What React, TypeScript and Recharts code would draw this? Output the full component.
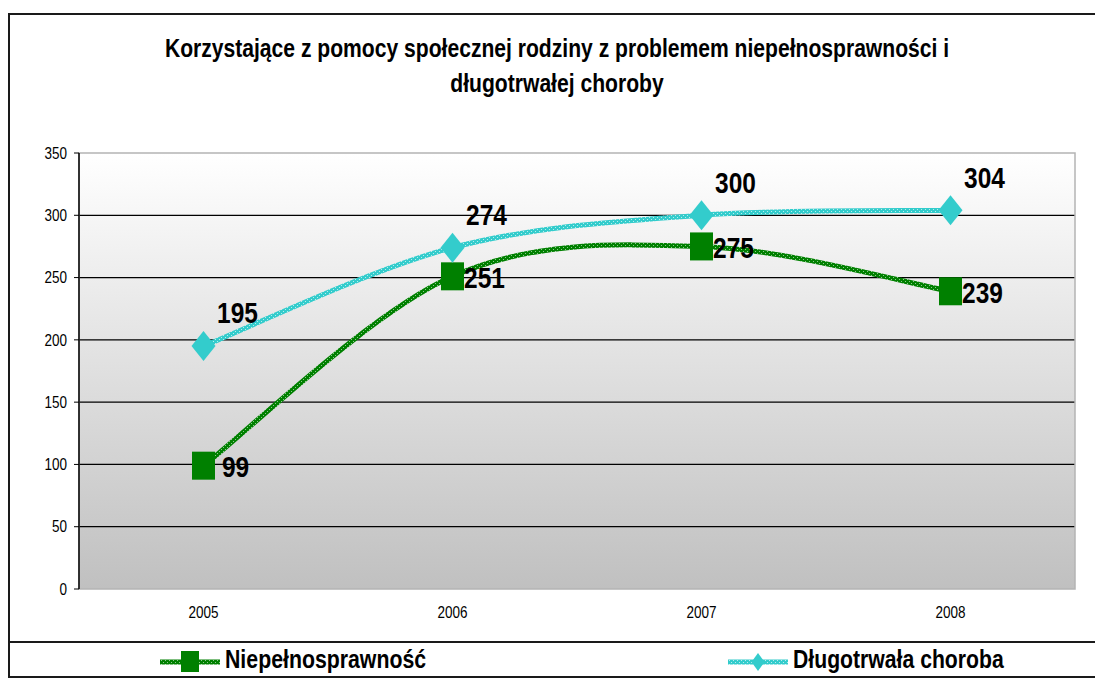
import React from "react";
import {
  LineChart,
  Line,
  XAxis,
  YAxis,
  CartesianGrid,
  ReferenceArea,
  LabelList,
} from "recharts";

const years = ["2005", "2006", "2007", "2008"];
const niepelnosprawnosc = [99, 251, 275, 239];
const dlugotrwalaChoroba = [195, 274, 300, 304];
const yTicks = [0, 50, 100, 150, 200, 250, 300, 350];
const gridValues = [50, 100, 150, 200, 250, 300];

const FONT = '"Liberation Sans", Arial, Helvetica, sans-serif';
const GREEN = "#008000";
const CYAN = "#33CCCC";
const SY = 1.18; // obraz jest lekko rozciągnięty w pionie

const W = 1087;
const H = 634;

// cała strona bez marginesu – wykres sam odsuwa się o 8px
if (typeof document !== "undefined") {
  document.documentElement.style.overflow = "hidden";
  document.body.style.margin = "0";
  document.body.style.overflow = "hidden";
}

// pozycja kategorii w środku przedziału (jak w Excelu)
const data = years.map((year, i) => ({
  x: i + 0.5,
  year,
  niep: niepelnosprawnosc[i],
  dlug: dlugotrwalaChoroba[i],
}));

// wygładzanie linii jak w Excelu (Bezier, napięcie 1/6)
// eslint-disable-next-line @typescript-eslint/no-explicit-any
function excelCurve(context: any) {
  let pts: [number, number][] = [];
  return {
    areaStart() {},
    areaEnd() {},
    lineStart() {
      pts = [];
    },
    point(x: number, y: number) {
      pts.push([+x, +y]);
    },
    lineEnd() {
      if (!pts.length) return;
      context.moveTo(pts[0][0], pts[0][1]);
      for (let i = 0; i < pts.length - 1; i++) {
        const p0 = pts[i - 1] ?? pts[i];
        const p1 = pts[i];
        const p2 = pts[i + 1];
        const p3 = pts[i + 2] ?? pts[i + 1];
        context.bezierCurveTo(
          p1[0] + (p2[0] - p0[0]) / 6,
          p1[1] + (p2[1] - p0[1]) / 6,
          p2[0] - (p3[0] - p1[0]) / 6,
          p2[1] - (p3[1] - p1[1]) / 6,
          p2[0],
          p2[1],
        );
      }
    },
  };
}

// eslint-disable-next-line @typescript-eslint/no-explicit-any
function YTick(props: any) {
  const { x, y, payload } = props;
  return (
    <g transform={`translate(${x},${y}) scale(1,${SY})`}>
      <text x={0} y={0} dy="0.355em" textAnchor="end" fontSize={13.5} fontFamily={FONT} fill="#000">
        {payload.value}
      </text>
    </g>
  );
}

// eslint-disable-next-line @typescript-eslint/no-explicit-any
function XTick(props: any) {
  const { x, y, payload } = props;
  const label = years[Math.floor(payload.value)] ?? "";
  return (
    <g transform={`translate(${x},${y}) scale(1,${SY})`}>
      <text x={0} y={0} dy="0.71em" textAnchor="middle" fontSize={13.5} fontFamily={FONT} fill="#000">
        {label}
      </text>
    </g>
  );
}

function makeLabel(dx: number, dy: number) {
  // eslint-disable-next-line @typescript-eslint/no-explicit-any
  return function ValueLabel(props: any) {
    const { x, y, value } = props;
    if (x == null || y == null) return null;
    return (
      <g transform={`translate(${x + dx},${y + dy}) scale(1,${SY})`}>
        <text
          x={0}
          y={0}
          dy="0.355em"
          textAnchor="middle"
          fontSize={24.5}
          fontWeight={700}
          fontFamily={FONT}
          fill="#000"
        >
          {value}
        </text>
      </g>
    );
  };
}

// eslint-disable-next-line @typescript-eslint/no-explicit-any
function SquareDot(props: any) {
  const { cx, cy, index } = props;
  if (cx == null || cy == null) return <g key={`sq-${index}`} />;
  return <rect key={`sq-${index}`} x={cx - 11.5} y={cy - 14} width={23} height={28} fill={GREEN} />;
}

// eslint-disable-next-line @typescript-eslint/no-explicit-any
function DiamondDot(props: any) {
  const { cx, cy, index } = props;
  if (cx == null || cy == null) return <g key={`dm-${index}`} />;
  const w = 12;
  const h = 15;
  return (
    <polygon
      key={`dm-${index}`}
      points={`${cx},${cy - h} ${cx + w},${cy} ${cx},${cy + h} ${cx - w},${cy}`}
      fill={CYAN}
    />
  );
}

function Patterns() {
  return (
    <defs>
      <linearGradient id="plotBg" x1="0" y1="0" x2="0" y2="1">
        <stop offset="0%" stopColor="#ffffff" />
        <stop offset="100%" stopColor="#c0c0c0" />
      </linearGradient>
      <pattern id="greenPat" width="4" height="4" patternUnits="userSpaceOnUse">
        <rect width="4" height="4" fill={GREEN} />
        <rect x="1" y="1" width="1" height="1" fill="#8cc98c" />
        <rect x="3" y="3" width="1" height="1" fill="#8cc98c" />
      </pattern>
      <pattern id="cyanPat" width="4" height="4" patternUnits="userSpaceOnUse">
        <rect width="4" height="4" fill={CYAN} />
        <rect x="1" y="1" width="1" height="1" fill="#b8eeee" />
        <rect x="3" y="3" width="1" height="1" fill="#b8eeee" />
      </pattern>
    </defs>
  );
}

function Legend() {
  return (
    <svg
      width={W}
      height={34}
      style={{ position: "absolute", left: 0, top: 635, display: "block" }}
    >
      <line x1={152} y1={19} x2={212} y2={19} stroke="url(#greenPat)" strokeWidth={5} />
      <rect x={173} y={8} width={18} height={21} fill={GREEN} />
      <g transform={`translate(217,25) scale(1,${SY})`}>
        <text x={0} y={0} fontSize={21.3} fontWeight={700} fontFamily={FONT} fill="#000">
          Niepełnosprawność
        </text>
      </g>
      <line x1={720} y1={19} x2={780} y2={19} stroke="url(#cyanPat)" strokeWidth={5} />
      <polygon points="750,10 756.5,19 750,28 743.5,19" fill={CYAN} />
      <g transform={`translate(785,25) scale(1,${SY})`}>
        <text x={0} y={0} fontSize={21.2} fontWeight={700} fontFamily={FONT} fill="#000">
          Długotrwała choroba
        </text>
      </g>
    </svg>
  );
}

export default function App() {
  return (
    <div
      style={{
        position: "relative",
        width: 1095,
        height: 679,
        overflow: "hidden",
        background: "#fff",
        fontFamily: FONT,
      }}
    >
      <div style={{ position: "absolute", left: 8, top: 8, width: W, height: 671 }}>
        {/* ramka wykresu (prawa krawędź poza kadrem) */}
        <div
          style={{
            position: "absolute",
            left: 0,
            top: 5,
            width: W + 10,
            height: 665,
            border: "2px solid #1a1a1a",
            boxSizing: "border-box",
          }}
        />
        <div
          style={{
            position: "absolute",
            left: 0,
            top: 633,
            width: W,
            height: 2,
            background: "#1a1a1a",
          }}
        />
        <div
          style={{
            position: "absolute",
            left: 20,
            top: 23,
            width: 1058,
            textAlign: "center",
            fontSize: 21.1,
            fontWeight: 700,
            lineHeight: "30px",
            color: "#000",
            transform: `scaleY(${SY})`,
            transformOrigin: "top",
            whiteSpace: "nowrap",
          }}
        >
          Korzystające z pomocy społecznej rodziny z problemem niepełnosprawności i
          <br />
          długotrwałej choroby
        </div>

        <div style={{ position: "absolute", left: 0, top: 0 }}>
          <LineChart
            width={W}
            height={H}
            data={data}
            margin={{ top: 145, right: 20, left: 0, bottom: 23 }}
          >
            <Patterns />
            <CartesianGrid
              vertical={false}
              horizontalValues={gridValues}
              stroke="#000"
              strokeWidth={1.2}
              fill="url(#plotBg)"
              fillOpacity={1}
            />
            <ReferenceArea y1={0} y2={350} fill="none" stroke="#b4b4b4" strokeWidth={1.5} ifOverflow="visible" />
            {/* znaczniki osi X na granicach kategorii */}
            <XAxis
              xAxisId={0}
              type="number"
              dataKey="x"
              domain={[0, 4]}
              ticks={[0, 1, 2, 3, 4]}
              tick={false}
              tickSize={5}
              height={0}
              axisLine={{ stroke: "#000", strokeWidth: 1.5 }}
              tickLine={{ stroke: "#000" }}
            />
            <XAxis
              xAxisId="lab"
              type="number"
              dataKey="x"
              domain={[0, 4]}
              ticks={[0.5, 1.5, 2.5, 3.5]}
              tick={<XTick />}
              tickLine={false}
              axisLine={false}
              tickSize={6}
              tickMargin={12}
              height={30}
            />
            <YAxis
              type="number"
              domain={[0, 350]}
              ticks={yTicks}
              width={71}
              tick={<YTick />}
              tickSize={5}
              tickMargin={7}
              axisLine={{ stroke: "#000", strokeWidth: 1.5 }}
              tickLine={{ stroke: "#000" }}
            />
            <Line
              xAxisId="lab"
              type={excelCurve}
              dataKey="niep"
              stroke="url(#greenPat)"
              strokeWidth={5}
              dot={SquareDot}
              activeDot={false}
              isAnimationActive={false}
            >
              <LabelList dataKey="niep" content={makeLabel(32, 1)} />
            </Line>
            <Line
              xAxisId="lab"
              type={excelCurve}
              dataKey="dlug"
              stroke="url(#cyanPat)"
              strokeWidth={5}
              dot={DiamondDot}
              activeDot={false}
              isAnimationActive={false}
            >
              <LabelList dataKey="dlug" content={makeLabel(34, -33)} />
            </Line>
          </LineChart>
        </div>
        <Legend />
      </div>
    </div>
  );
}
